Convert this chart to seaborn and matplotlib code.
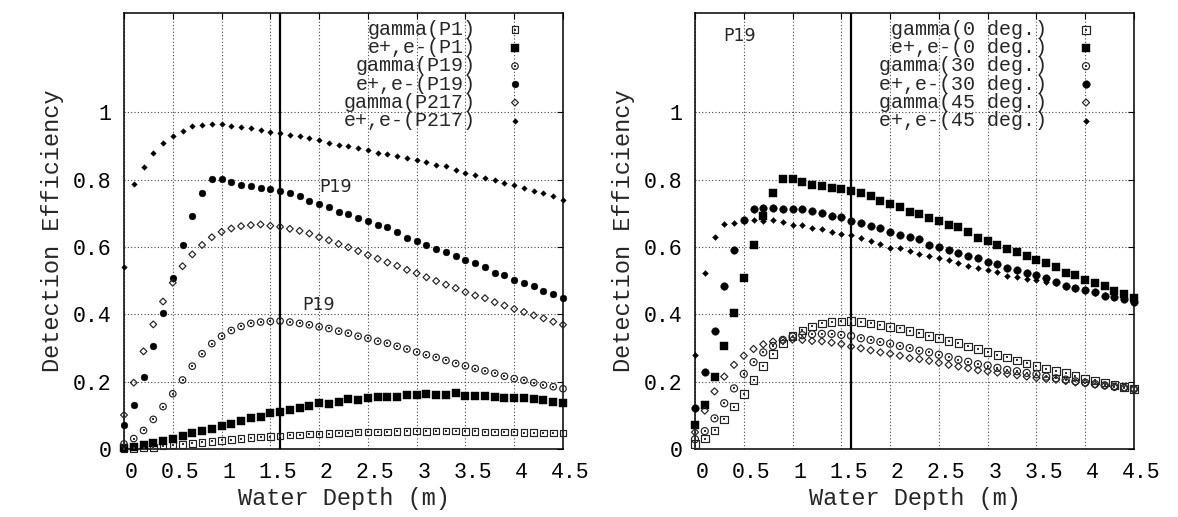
import numpy as np
import pandas as pd
import matplotlib
matplotlib.use("Agg")
import matplotlib.pyplot as plt
import seaborn as sns
from matplotlib.transforms import ScaledTranslation
from matplotlib.legend_handler import HandlerTuple

# ---------------- data ----------------
depth = [0.0, 0.1, 0.2, 0.3, 0.4, 0.5, 0.6, 0.7, 0.8, 0.9,
         1.0, 1.1, 1.2, 1.3, 1.4, 1.5, 1.6, 1.7, 1.8, 1.9,
         2.0, 2.1, 2.2, 2.3, 2.4, 2.5, 2.6, 2.7, 2.8, 2.9,
         3.0, 3.1, 3.2, 3.3, 3.4, 3.5, 3.6, 3.7, 3.8, 3.9,
         4.0, 4.1, 4.2, 4.3, 4.4, 4.5]

gamma_P1 = [0.001, 0.002, 0.003, 0.005, 0.009, 0.012, 0.014, 0.017, 0.020, 0.023,
            0.026, 0.028, 0.031, 0.034, 0.035, 0.037, 0.039, 0.041, 0.042, 0.044,
            0.045, 0.046, 0.047, 0.048, 0.050, 0.050, 0.051, 0.051, 0.052, 0.052,
            0.053, 0.052, 0.053, 0.053, 0.053, 0.052, 0.052, 0.051, 0.051, 0.050,
            0.050, 0.049, 0.049, 0.048, 0.048, 0.047]
epem_P1 = [0.004, 0.007, 0.012, 0.019, 0.025, 0.031, 0.039, 0.048, 0.053, 0.060,
           0.068, 0.074, 0.082, 0.092, 0.095, 0.106, 0.110, 0.116, 0.123, 0.128,
           0.136, 0.134, 0.139, 0.148, 0.146, 0.150, 0.153, 0.155, 0.155, 0.159,
           0.159, 0.162, 0.160, 0.160, 0.165, 0.158, 0.158, 0.158, 0.155, 0.152,
           0.150, 0.150, 0.148, 0.146, 0.139, 0.136]
gamma_P19 = [0.015, 0.031, 0.055, 0.088, 0.126, 0.164, 0.205, 0.246, 0.283, 0.313,
             0.335, 0.352, 0.364, 0.373, 0.377, 0.379, 0.380, 0.377, 0.373, 0.369,
             0.363, 0.358, 0.350, 0.344, 0.335, 0.329, 0.320, 0.314, 0.305, 0.297,
             0.288, 0.280, 0.272, 0.263, 0.254, 0.247, 0.239, 0.232, 0.225, 0.216,
             0.209, 0.204, 0.197, 0.190, 0.185, 0.179]
epem_P19 = [0.071, 0.131, 0.214, 0.307, 0.404, 0.509, 0.607, 0.691, 0.761, 0.801,
            0.803, 0.792, 0.783, 0.780, 0.776, 0.773, 0.765, 0.761, 0.750, 0.738,
            0.727, 0.718, 0.704, 0.697, 0.687, 0.678, 0.665, 0.658, 0.645, 0.628,
            0.619, 0.607, 0.593, 0.585, 0.573, 0.562, 0.551, 0.542, 0.524, 0.517,
            0.501, 0.494, 0.483, 0.469, 0.461, 0.449]
gamma_P217 = [0.101, 0.197, 0.290, 0.370, 0.438, 0.494, 0.543, 0.578, 0.606, 0.629,
              0.645, 0.655, 0.662, 0.665, 0.667, 0.663, 0.660, 0.654, 0.648, 0.640,
              0.629, 0.620, 0.609, 0.599, 0.588, 0.576, 0.565, 0.554, 0.544, 0.532,
              0.522, 0.510, 0.499, 0.488, 0.478, 0.466, 0.456, 0.448, 0.436, 0.426,
              0.416, 0.407, 0.397, 0.388, 0.378, 0.369]
epem_P217 = [0.541, 0.786, 0.837, 0.878, 0.908, 0.931, 0.946, 0.958, 0.962, 0.965,
             0.965, 0.960, 0.956, 0.953, 0.948, 0.943, 0.939, 0.934, 0.930, 0.925,
             0.919, 0.910, 0.904, 0.901, 0.894, 0.887, 0.880, 0.876, 0.870, 0.863,
             0.858, 0.851, 0.845, 0.840, 0.830, 0.821, 0.814, 0.806, 0.798, 0.791,
             0.784, 0.774, 0.766, 0.761, 0.751, 0.741]

# right panel (P19 at several incidence angles); 0 deg. is the same run as P19
gamma_0deg = list(gamma_P19)
epem_0deg = list(epem_P19)
gamma_30deg = [0.029, 0.053, 0.091, 0.136, 0.180, 0.223, 0.258, 0.287, 0.306, 0.324,
               0.334, 0.338, 0.341, 0.342, 0.342, 0.339, 0.336, 0.329, 0.324, 0.318,
               0.313, 0.306, 0.300, 0.292, 0.287, 0.280, 0.273, 0.265, 0.259, 0.252,
               0.248, 0.241, 0.235, 0.231, 0.226, 0.222, 0.215, 0.210, 0.206, 0.201,
               0.197, 0.193, 0.189, 0.185, 0.182, 0.178]
epem_30deg = [0.123, 0.229, 0.350, 0.484, 0.590, 0.679, 0.714, 0.715, 0.715, 0.714,
              0.714, 0.712, 0.707, 0.701, 0.692, 0.689, 0.677, 0.670, 0.661, 0.656,
              0.646, 0.637, 0.631, 0.623, 0.606, 0.599, 0.592, 0.583, 0.572, 0.566,
              0.556, 0.549, 0.539, 0.532, 0.522, 0.516, 0.507, 0.497, 0.485, 0.479,
              0.472, 0.465, 0.454, 0.452, 0.445, 0.436]
gamma_45deg = [0.050, 0.114, 0.171, 0.215, 0.250, 0.277, 0.297, 0.311, 0.319, 0.323,
               0.325, 0.324, 0.321, 0.320, 0.316, 0.312, 0.304, 0.299, 0.293, 0.287,
               0.283, 0.277, 0.270, 0.267, 0.262, 0.256, 0.250, 0.245, 0.240, 0.234,
               0.231, 0.227, 0.223, 0.219, 0.215, 0.211, 0.208, 0.206, 0.202, 0.198,
               0.195, 0.191, 0.188, 0.184, 0.181, 0.178]
epem_45deg = [0.280, 0.522, 0.629, 0.669, 0.672, 0.678, 0.679, 0.678, 0.679, 0.673,
              0.666, 0.664, 0.655, 0.653, 0.645, 0.640, 0.635, 0.626, 0.619, 0.610,
              0.598, 0.596, 0.589, 0.580, 0.573, 0.566, 0.560, 0.551, 0.543, 0.538,
              0.531, 0.527, 0.515, 0.512, 0.504, 0.502, 0.495, 0.492, 0.482, 0.474,
              0.470, 0.464, 0.457, 0.451, 0.447, 0.441]

left_labels = ["gamma(P1)", "e+,e-(P1)", "gamma(P19)", "e+,e-(P19)",
               "gamma(P217)", "e+,e-(P217)"]
left_values = [gamma_P1, epem_P1, gamma_P19, epem_P19, gamma_P217, epem_P217]
right_labels = ["gamma(0 deg.)", "e+,e-(0 deg.)", "gamma(30 deg.)", "e+,e-(30 deg.)",
                "gamma(45 deg.)", "e+,e-(45 deg.)"]
right_values = [gamma_0deg, epem_0deg, gamma_30deg, epem_30deg, gamma_45deg, epem_45deg]

xtick_vals = [0, 0.5, 1, 1.5, 2, 2.5, 3, 3.5, 4, 4.5]
xtick_labels = ["0", "0.5", "1", "1.5", "2", "2.5", "3", "3.5", "4", "4.5"]
ytick_vals = [0, 0.2, 0.4, 0.6, 0.8, 1.0]
ytick_labels = ["0", "0.2", "0.4", "0.6", "0.8", "1"]
ref_depth = 1.6

# ---------------- style ----------------
sns.set_style("white")
plt.rcParams['font.family'] = ['Liberation Mono', 'DejaVu Sans Mono']
plt.rcParams['axes.edgecolor'] = 'black'
plt.rcParams['axes.linewidth'] = 1.1

W, H = 1178, 517
fig = plt.figure(figsize=(W / 100, H / 100), dpi=100)
fig.patch.set_facecolor('white')

def px_axes(l, r, t, b):
    return [l / W, 1 - b / H, (r - l) / W, (b - t) / H]

ax1 = fig.add_axes(px_axes(124, 563, 13, 449))
ax2 = fig.add_axes(px_axes(695, 1134, 13, 449))

# marker kinds: open square, filled square, open circle, filled circle,
# open diamond, small filled diamond
kinds = [("s", False), ("s", True), ("o", False), ("o", True), ("D", False), ("D", True)]

def draw_panel(ax, labels, values, big):
    handles = []
    for (mk, filled), lab, vals in zip(kinds, labels, values):
        if mk == "s":
            size = (38 if filled else 30) if big else (28 if filled else 22)
        elif mk == "o":
            size = (30 if filled else 26) if big else (24 if filled else 22)
        else:
            size = (9 if filled else 13) if big else (8 if filled else 12)
        if filled:
            sns.scatterplot(x=depth, y=vals, ax=ax, marker=mk, s=size,
                            color="black", edgecolor="black", linewidth=0.3,
                            legend=False, label=lab, clip_on=False, zorder=4)
            handles.append(ax.collections[-1])
        else:
            sns.scatterplot(x=depth, y=vals, ax=ax, marker=mk, s=size,
                            color="black", facecolor="none", edgecolor="#222222",
                            linewidth=0.85, legend=False, label=lab,
                            clip_on=False, zorder=4)
            h_open = ax.collections[-1]
            if mk != "D":
                sns.scatterplot(x=depth, y=vals, ax=ax, marker="s", s=1.2,
                                color="#333333", linewidth=0, legend=False,
                                clip_on=False, zorder=5)
                handles.append((h_open, ax.collections[-1]))
            else:
                handles.append(h_open)

    ax.axvline(ref_depth, color="black", lw=1.6, zorder=3)
    ax.set_xlim(0, 4.5)
    ax.set_ylim(0, 1.295)
    ax.set_xticks(xtick_vals)
    ax.set_xticklabels(xtick_labels)
    ax.set_yticks(ytick_vals)
    ax.set_yticklabels(ytick_labels)
    ax.grid(True, color="#444444", linestyle=(0, (1, 2)), linewidth=0.8)
    ax.tick_params(direction="in", top=True, right=True, length=4, width=0.8,
                   labelsize=15.5, colors="black")
    ax.tick_params(axis="x", pad=9)
    ax.tick_params(axis="y", pad=9)
    for sp in ax.spines.values():
        sp.set_visible(True)
        sp.set_color("black")
        sp.set_linewidth(1.1)
    ax.set_xlabel("Water Depth (m)", fontsize=17, labelpad=3)
    ax.set_ylabel("Detection Efficiency", fontsize=17, labelpad=6.5)
    offset = ScaledTranslation(7 / 100, 0, fig.dpi_scale_trans)
    for t in ax.get_xticklabels():
        t.set_transform(t.get_transform() + offset)
    leg = ax.legend(handles=handles, labels=labels, loc="upper right",
                    bbox_to_anchor=(1 - 21 / 439, 1.0),
                    markerfirst=False, frameon=False, fontsize=14.4,
                    handler_map={tuple: HandlerTuple(ndivide=1)},
                    handlelength=2.0, handletextpad=0.95, labelspacing=-0.04,
                    borderpad=0.0, borderaxespad=0.35, scatterpoints=1)
    leg.set_zorder(6)
    return ax

draw_panel(ax1, left_labels, left_values, big=False)
draw_panel(ax2, right_labels, right_values, big=True)

sans = ['DejaVu Sans']
ax1.text(2.17, 0.778, "P19", fontsize=12.5, family=sans, ha="center", va="center")
ax1.text(1.995, 0.429, "P19", fontsize=12.5, family=sans, ha="center", va="center")
ax2.text(0.456, 1.226, "P19", fontsize=12.5, family=sans, ha="center", va="center")

fig.savefig("out.png", dpi=100, facecolor="white")
